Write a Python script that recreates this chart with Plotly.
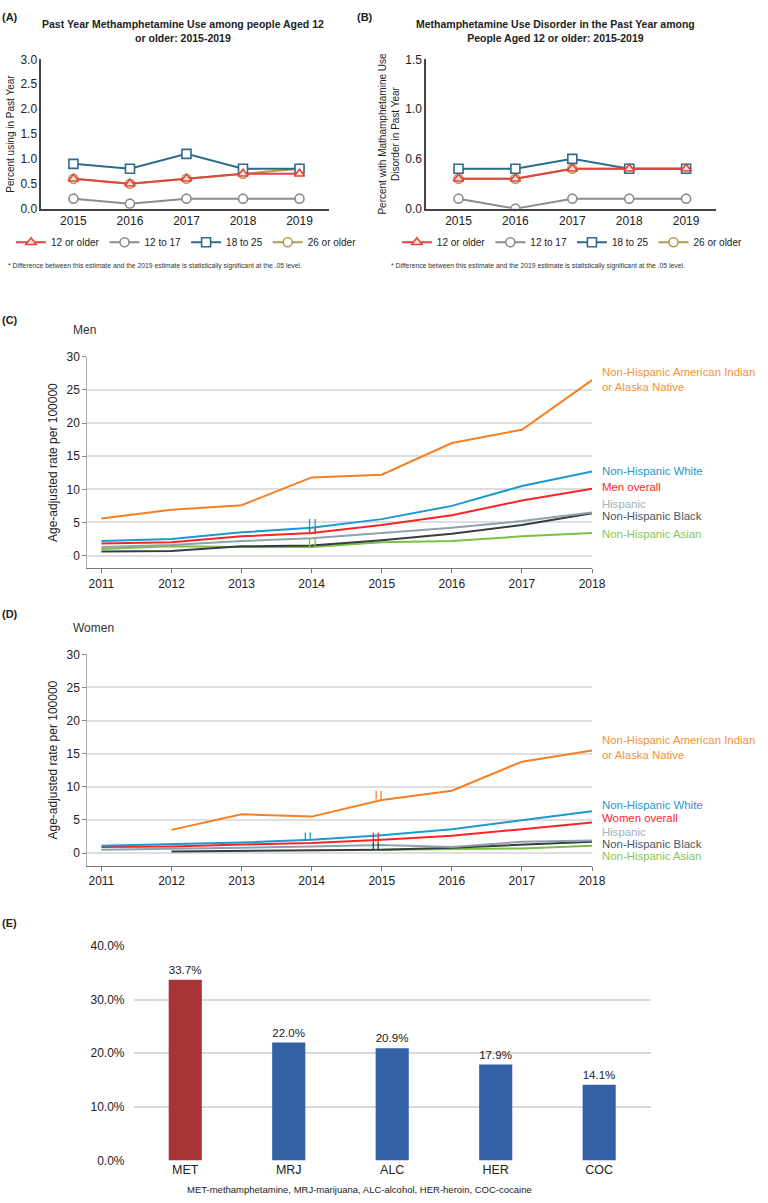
import plotly.graph_objects as go

W, H = 768, 1203
def px(x): return x / W
def py(y): return 1 - y / H

FONT = "Liberation Sans, Arial, sans-serif"

# ---------------- Panel A / B data ----------------
years_ab = [2015, 2016, 2017, 2018, 2019]
groups_ab = ["12 or older", "12 to 17", "18 to 25", "26 or older"]
use_12plus = [0.6, 0.5, 0.6, 0.7, 0.7]
use_12to17 = [0.2, 0.1, 0.2, 0.2, 0.2]
use_18to25 = [0.9, 0.8, 1.1, 0.8, 0.8]
use_26plus = [0.6, 0.5, 0.6, 0.7, 0.8]

dis_12plus = [0.3, 0.3, 0.4, 0.4, 0.4]
dis_12to17 = [0.1, 0.0, 0.1, 0.1, 0.1]
dis_18to25 = [0.4, 0.4, 0.5, 0.4, 0.4]
dis_26plus = [0.3, 0.3, 0.4, 0.4, 0.4]
b_tickvals = [0.0, 0.5, 1.0, 1.5]
b_ticktext = ["0.0", "0.6", "1.0", "1.5"]

# ---------------- Panel C / D data ----------------
years_cd = [2011, 2012, 2013, 2014, 2015, 2016, 2017, 2018]
series_cd = ["Non-Hispanic American Indian<br>or Alaska Native", "Non-Hispanic White",
             "overall", "Hispanic", "Non-Hispanic Black", "Non-Hispanic Asian"]
men_aian = [5.6, 6.9, 7.6, 11.8, 12.2, 17.0, 19.0, 26.5]
men_white = [2.2, 2.5, 3.5, 4.2, 5.5, 7.5, 10.5, 12.7]
men_overall = [1.8, 2.0, 2.9, 3.4, 4.6, 6.1, 8.3, 10.1]
men_hisp = [1.3, 1.6, 2.2, 2.6, 3.4, 4.2, 5.2, 6.5]
men_black = [0.6, 0.7, 1.4, 1.5, 2.3, 3.3, 4.6, 6.4]
men_asian = [1.0, 1.4, 1.3, 1.3, 2.0, 2.2, 2.9, 3.4]

women_aian = [None, 3.5, 5.85, 5.5, 8.0, 9.4, 13.8, 15.5]
women_white = [1.1, 1.3, 1.6, 2.0, 2.7, 3.6, 5.0, 6.3]
women_overall = [0.9, 1.0, 1.3, 1.5, 2.0, 2.6, 3.6, 4.6]
women_hisp = [0.5, 0.6, 0.8, 1.0, 1.2, 0.9, 1.7, 1.9]
women_black = [None, 0.25, 0.3, 0.4, 0.5, 0.8, 1.2, 1.7]
women_asian = [None, None, None, None, 0.5, 0.6, 0.7, 1.1]

# break marks: (year position, color key, y from, y to)
men_breaks = [(2013.97, "white", 3.4, 5.5), (2014.05, "white", 3.4, 5.5),
              (2013.97, "overall", 3.2, 4.2), (2014.05, "overall", 3.2, 4.2),
              (2013.97, "asian", 1.2, 2.5), (2014.05, "asian", 1.2, 2.5)]
women_breaks = [(2014.92, "aian", 8.1, 9.4), (2014.99, "aian", 8.1, 9.4),
                (2013.91, "white", 1.9, 3.1), (2013.98, "white", 1.9, 3.1),
                (2014.88, "overall", 1.5, 3.1), (2014.95, "overall", 1.5, 3.1),
                (2014.88, "black", 0.45, 1.6), (2014.95, "black", 0.45, 1.6)]

# ---------------- Panel E data ----------------
drugs = ["MET", "MRJ", "ALC", "HER", "COC"]
drug_pct = [33.7, 22.0, 20.9, 17.9, 14.1]
pct_ticks = [0, 10, 20, 30, 40]

# ---------------- styles ----------------
c_red, c_grey, c_blue, c_gold = "#e2453c", "#8c8c8c", "#2d6a8c", "#b99a4c"
cd_colors = {"aian": "#f57f22", "white": "#1d98d0", "overall": "#ff2424",
             "hisp": "#8ea2aa", "black": "#353d42", "asian": "#79c043"}
label_colors = {"aian": "#f7922f", "white": "#1d98d0", "overall": "#ff2424",
                "hisp": "#9fb0b7", "black": "#4c5459", "asian": "#86c84a"}

fig = go.Figure()

def add_ab(xa, ya, leg, vals):
    specs = [("12 or older", vals[0], c_red, "triangle-up", "#fbe3e1"),
             ("12 to 17", vals[1], c_grey, "circle", "white"),
             ("18 to 25", vals[2], c_blue, "square", "white"),
             ("26 or older", vals[3], c_gold, "circle", "white")]
    order = [3, 1, 2, 0]
    traces = {}
    for i, (name, v, col, sym, fill) in enumerate(specs):
        traces[i] = go.Scatter(x=years_ab, y=v, name=name, mode="lines+markers",
                               line=dict(color=col, width=2),
                               marker=dict(symbol=sym, size=9, color=fill,
                                           line=dict(color=col, width=1.6)),
                               xaxis=xa, yaxis=ya, legend=leg, legendrank=i + 1)
    for i in order:
        fig.add_trace(traces[i])

add_ab("x", "y", "legend", [use_12plus, use_12to17, use_18to25, use_26plus])
add_ab("x2", "y2", "legend2", [dis_12plus, dis_12to17, dis_18to25, dis_26plus])

def add_cd(xa, ya, vals):
    keys = ["aian", "white", "overall", "hisp", "black", "asian"]
    draw = [5, 4, 3, 2, 1, 0]
    for i in draw:
        fig.add_trace(go.Scatter(x=years_cd, y=vals[i], mode="lines",
                                 line=dict(color=cd_colors[keys[i]], width=2),
                                 showlegend=False, xaxis=xa, yaxis=ya,
                                 connectgaps=False, hoverinfo="skip"))

add_cd("x3", "y3", [men_aian, men_white, men_overall, men_hisp, men_black, men_asian])
add_cd("x4", "y4", [women_aian, women_white, women_overall, women_hisp, women_black, women_asian])

fig.add_trace(go.Bar(x=drugs, y=drug_pct,
                     marker=dict(color=["#a83535"] + ["#3460a6"] * 4, line=dict(width=0)),
                     width=0.32, text=[f"{v:.1f}%" for v in drug_pct],
                     textposition="outside", cliponaxis=False,
                     textfont=dict(size=12, color="#222", family=FONT),
                     showlegend=False, xaxis="x5", yaxis="y5"))

shapes = []
for (xv, key, y0, y1) in men_breaks:
    shapes.append(dict(type="line", xref="x3", yref="y3", x0=xv, x1=xv, y0=y0, y1=y1,
                       line=dict(color=cd_colors[key], width=1.3)))
for (xv, key, y0, y1) in women_breaks:
    shapes.append(dict(type="line", xref="x4", yref="y4", x0=xv, x1=xv, y0=y0, y1=y1,
                       line=dict(color=cd_colors[key], width=1.3)))

ann = []
def text(x, y, t, size=11, color="#222", bold=False, xanchor="left", yanchor="middle", align="left"):
    if bold:
        t = f"<b>{t}</b>"
    ann.append(dict(x=px(x), y=py(y), xref="paper", yref="paper", text=t, showarrow=False,
                    xanchor=xanchor, yanchor=yanchor, align=align,
                    font=dict(size=size, color=color, family=FONT)))

text(0, 10, "(A)", 11, bold=True)
text(362, 10, "(B)", 11, bold=True)
text(0, 317, "(C)", 11, bold=True)
text(0, 614, "(D)", 11, bold=True)
text(0, 927, "(E)", 11, bold=True)
text(186, 24, "Past Year Methamphetamine Use among people Aged 12<br>or older: 2015-2019",
     10.5, bold=True, xanchor="center", align="center")
text(566, 24, "Methamphetamine Use Disorder in the Past Year among<br>People Aged 12 or older: 2015-2019",
     10.5, bold=True, xanchor="center", align="center")
foot = "* Difference between this estimate and the 2019 estimate is statistically significant at the .05 level."
text(6, 262, foot, 6.8, color="#333")
text(396, 262, foot, 6.8, color="#333")
text(72, 327, "Men", 12, color="#333")
text(72, 628, "Women", 12, color="#333")

men_lbl = [("aian", 376.5, series_cd[0]), ("white", 469, series_cd[1]),
           ("overall", 486, "Men overall"), ("hisp", 503, series_cd[3]),
           ("black", 515, series_cd[4]), ("asian", 533, series_cd[5])]
women_lbl = [("aian", 749.5, series_cd[0]), ("white", 807, series_cd[1]),
             ("overall", 821, "Women overall"), ("hisp", 835, series_cd[3]),
             ("black", 847, series_cd[4]), ("asian", 859, series_cd[5])]
for key, yy, t in men_lbl + women_lbl:
    text(611, yy, t, 11.4, color=label_colors[key])
text(366, 1196, "MET-methamphetamine, MRJ-marijuana, ALC-alcohol, HER-heroin, COC-cocaine",
     9.5, color="#222", xanchor="center")

ab_x = dict(range=[2014.43, 2019.52], tickvals=years_ab, showgrid=False, zeroline=False,
            showline=True, linecolor="#444", linewidth=1.5, ticks="",
            tickfont=dict(size=12, color="#222", family=FONT))
ab_y = dict(showgrid=False, zeroline=False, showline=True, linecolor="#444", linewidth=1.5,
            ticks="", tickfont=dict(size=12, color="#222", family=FONT))
cd_x = dict(range=[2010.8, 2018.0], tickvals=years_cd, showgrid=False, zeroline=False,
            showline=True, linecolor="#777", linewidth=1.2, ticks="outside", ticklen=4,
            tickcolor="#777", tickfont=dict(size=12, color="#222", family=FONT))
cd_y = dict(range=[-1.94, 30.0], tickvals=[0, 5, 10, 15, 20, 25, 30], showgrid=True,
            gridcolor="#dedede", gridwidth=1.5, zeroline=False, showline=True,
            linecolor="#aaa", linewidth=1.2, ticks="outside", ticklen=4, tickcolor="#888",
            tickfont=dict(size=12, color="#222", family=FONT),
            title=dict(text="Age-adjusted rate per 100000", font=dict(size=12, color="#222", family=FONT),
                       standoff=6))

fig.update_layout(
    width=W, height=H, margin=dict(l=0, r=0, t=0, b=0),
    paper_bgcolor="white", plot_bgcolor="white", font=dict(family=FONT),
    xaxis=dict(domain=[px(42), px(335)], anchor="y", **ab_x),
    yaxis=dict(domain=[py(204), py(53)], anchor="x", range=[0, 3.0],
               tickvals=[0, 0.5, 1.0, 1.5, 2.0, 2.5, 3.0], tickformat=".1f",
               title=dict(text="Percent using in Past Year", font=dict(size=10, color="#222", family=FONT),
                          standoff=4), **ab_y),
    xaxis2=dict(domain=[px(434), px(729)], anchor="y2", **ab_x),
    yaxis2=dict(domain=[py(204), py(53)], anchor="x2", range=[0, 1.5],
                tickvals=b_tickvals, ticktext=b_ticktext,
                title=dict(text="Percent with Mathamphetamine Use<br>Disorder in Past Year",
                           font=dict(size=10, color="#222", family=FONT), standoff=4), **ab_y),
    xaxis3=dict(domain=[px(89), px(603)], anchor="y3", **cd_x),
    yaxis3=dict(domain=[py(568), py(354)], anchor="x3", **cd_y),
    xaxis4=dict(domain=[px(89), px(603)], anchor="y4", **cd_x),
    yaxis4=dict(domain=[py(869), py(655)], anchor="x4", **cd_y),
    xaxis5=dict(domain=[px(136), px(663)], anchor="y5", range=[-0.5, 4.5], showgrid=False,
                showline=False, zeroline=False, ticks="",
                tickfont=dict(size=12.5, color="#222", family=FONT)),
    yaxis5=dict(domain=[py(1167), py(950)], anchor="x5", range=[0, 40], tickvals=pct_ticks,
                ticktext=[f"{v:.1f}%" for v in pct_ticks], showgrid=True, gridcolor="#d9d9d9",
                gridwidth=1.5, zeroline=False, showline=False, ticks="", ticklabelstandoff=8,
                tickfont=dict(size=12, color="#222", family=FONT)),
    legend=dict(orientation="h", x=px(190), y=py(238), xanchor="center", yanchor="middle",
                font=dict(size=10, color="#222", family=FONT), itemwidth=30,
                bgcolor="rgba(0,0,0,0)", traceorder="normal"),
    legend2=dict(orientation="h", x=px(583), y=py(238), xanchor="center", yanchor="middle",
                 font=dict(size=10, color="#222", family=FONT), itemwidth=30,
                 bgcolor="rgba(0,0,0,0)", traceorder="normal"),
    shapes=shapes, annotations=ann, bargap=0.5,
)

fig.write_html("out.html", config={"displayModeBar": False},
               post_script="document.body.style.margin='0';document.body.style.overflow='hidden';")
